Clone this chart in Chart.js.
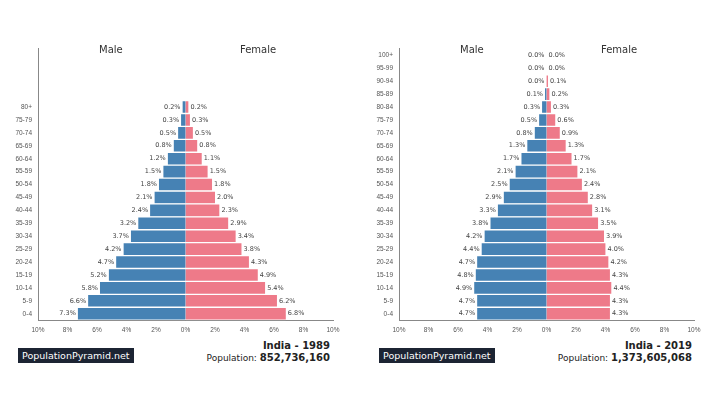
<!DOCTYPE html>
<html><head><meta charset="utf-8">
<script src="https://cdn.jsdelivr.net/npm/chart.js@4"></script>
<style>
body{margin:0;width:720px;height:405px;background:#fff;font-family:"DejaVu Sans",sans-serif;position:relative;overflow:hidden}
.box{position:absolute;top:42px;width:345px;height:295px}
.t{position:absolute;top:44px;font-size:10px;color:#333}
.brand{position:absolute;top:348px;background:#1c2433;color:#fff;font-size:9.5px;padding:2px 4px}
.info{position:absolute;top:340px;text-align:right;font-size:9px;color:#222;line-height:12px}
.info b{font-size:10px}
</style></head><body>
<div class="box" style="left:0"><canvas id="c1"></canvas></div>
<div class="box" style="left:361px"><canvas id="c2"></canvas></div>
<div class="t" style="left:99px">Male</div><div class="t" style="left:240px">Female</div>
<div class="t" style="left:460px">Male</div><div class="t" style="left:601px">Female</div>
<div class="brand" style="left:18px">PopulationPyramid.net</div>
<div class="brand" style="left:379px">PopulationPyramid.net</div>
<div class="info" style="right:390px"><b>India - 1989</b><br>Population: <b>852,736,160</b></div>
<div class="info" style="right:28px"><b>India - 2019</b><br>Population: <b>1,373,605,068</b></div>
<script>
const ages = ['100+','95-99','90-94','85-89','80-84','75-79','70-74','65-69','60-64','55-59','50-54','45-49','40-44','35-39','30-34','25-29','20-24','15-19','10-14','5-9','0-4'];
const ages1989 = ['','','','','80+','75-79','70-74','65-69','60-64','55-59','50-54','45-49','40-44','35-39','30-34','25-29','20-24','15-19','10-14','5-9','0-4'];

// 1989 (top 4 slots empty)
const male1989 = [null,null,null,null,0.2,0.3,0.5,0.8,1.2,1.5,1.8,2.1,2.4,3.2,3.7,4.2,4.7,5.2,5.8,6.6,7.3];
const female1989 = [null,null,null,null,0.2,0.3,0.5,0.8,1.1,1.5,1.8,2.0,2.3,2.9,3.4,3.8,4.3,4.9,5.4,6.2,6.8];
const male2019 = [0.0,0.0,0.0,0.1,0.3,0.5,0.8,1.3,1.7,2.1,2.5,2.9,3.3,3.8,4.2,4.4,4.7,4.8,4.9,4.7,4.7];
const female2019 = [0.0,0.0,0.1,0.2,0.3,0.6,0.9,1.3,1.7,2.1,2.4,2.8,3.1,3.5,3.9,4.0,4.2,4.3,4.4,4.3,4.3];

const labelPlugin = {
  id: 'barLabels',
  afterDatasetsDraw(chart) {
    const ctx = chart.ctx;
    ctx.save();
    ctx.font = '6.5px "DejaVu Sans"';
    ctx.fillStyle = '#444';
    ctx.textBaseline = 'middle';
    chart.data.datasets.forEach((ds, i) => {
      chart.getDatasetMeta(i).data.forEach((bar, j) => {
        const v = ds.data[j];
        if (v === null) return;
        const txt = Math.abs(v).toFixed(1) + '%';
        if (i === 0) { ctx.textAlign = 'right'; ctx.fillText(txt, Math.min(bar.x, bar.base) - 2, bar.y); }
        else { ctx.textAlign = 'left'; ctx.fillText(txt, Math.max(bar.x, bar.base) + 2, bar.y); }
      });
    });
    ctx.restore();
  }
};

function pyramid(id, labels, male, female) {
  new Chart(document.getElementById(id), {
    type: 'bar',
    data: {
      labels: labels,
      datasets: [
        { data: male.map(v => v === null ? null : -v), backgroundColor: '#4682b4', borderColor: '#fff', borderWidth: {top: 1, bottom: 1}, borderSkipped: false },
        { data: female, backgroundColor: '#ee7a89', borderColor: '#fff', borderWidth: {top: 1, bottom: 1}, borderSkipped: false }
      ]
    },
    options: {
      indexAxis: 'y',
      animation: false,
      responsive: true,
      maintainAspectRatio: false,
      layout: { padding: { top: 0, right: 12, bottom: 0, left: 0 } },
      plugins: { legend: { display: false }, tooltip: { enabled: false } },
      datasets: { bar: { barPercentage: 1, categoryPercentage: 1 } },
      scales: {
        x: {
          stacked: true, min: -10, max: 10,
          ticks: { stepSize: 2, font: { size: 6.5 }, color: '#555', callback: v => Math.abs(v) + '%' },
          grid: { display: false, drawTicks: true, tickLength: 3 },
          border: { color: '#888' }
        },
        y: {
          stacked: true,
          ticks: { font: { size: 6.5 }, color: '#555' },
          grid: { display: false, tickLength: 3 },
          border: { color: '#888' },
          afterFit: s => { s.width = 38; }
        }
      }
    },
    plugins: [labelPlugin]
  });
}
pyramid('c1', ages1989, male1989, female1989);
pyramid('c2', ages, male2019, female2019);
</script>
</body></html>
